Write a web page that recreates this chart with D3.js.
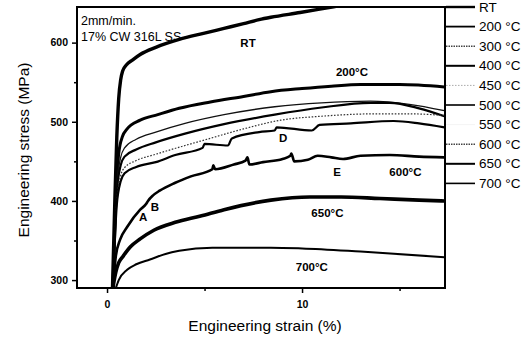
<!DOCTYPE html>
<html><head><meta charset="utf-8">
<script src="https://cdn.jsdelivr.net/npm/d3@7"></script>
<style>
html,body{margin:0;padding:0;background:#fff;}
svg{display:block;font-family:"Liberation Sans",Arial,sans-serif;}
</style></head>
<body>
<svg id="chart" width="527" height="337"></svg>
<script>
// ---- data (strain %, stress MPa) ----
const seriesNames = ["RT","200 °C","300 °C","400 °C","450 °C","500 °C","550 °C","600 °C","650 °C","700 °C"];
const curveRT  = [[0.28,290],[0.4,400],[0.5,480],[0.6,530],[0.7,553],[0.8,564],[1.0,572],[1.3,578],[1.7,585],[2.5,594],[3.7,604],[5,612],[6,618],[7,624],[7.8,629],[8.4,632],[9.9,638],[11.3,644],[12,647]];
const curve200 = [[0.3,290],[0.45,400],[0.6,460],[0.8,482],[1.0,490],[1.7,502],[2.6,509],[3.7,517],[5.3,525],[7,532],[8.4,538],[10,542],[11.5,545],[13,547],[15,547],[17.3,544]];
const curve300 = [[0.3,290],[0.5,420],[0.7,455],[0.9,467],[1.5,478],[2.5,487],[4,498],[6,509],[8.6,519],[11,524],[13.5,526],[15.5,522],[17.3,514]];
const curve400 = [[0.3,290],[0.5,410],[0.7,445],[0.9,456],[1.5,465],[2.5,474],[4,485],[6,497],[8.6,509],[11,518],[13.5,524],[14.5,524],[16,517],[17.3,507]];
const curve450 = [[0.3,290],[0.5,400],[0.7,432],[0.9,442],[1.5,451],[2.5,459],[4,470],[5,477],[7,491],[8.9,502],[11,507],[13.7,510],[15.5,510],[17.3,508]];
const curve500 = [[0.3,290],[0.5,395],[0.7,425],[0.9,435],[1.5,443],[2.5,449],[3.5,458],[4.9,467],[5.0,472],[6.2,470],[6.4,479],[7.8,487],[8.6,489],[8.7,493],[10.5,489],[10.9,496],[12.5,498],[14.7,501],[16,498],[17.3,493]];
const curve550 = [];
const curve600 = [[0.3,290],[0.45,330],[0.67,351],[1.03,367],[1.7,389],[2.0,396],[2.1,400],[2.36,407],[2.7,413],[3.5,423],[4.3,431],[5.4,440],[5.45,445],[5.55,440],[6.5,446],[7.1,451],[7.2,455],[7.3,446],[8,449],[9,453],[9.4,457],[9.45,460],[9.6,450],[10.3,452],[10.8,457],[11.5,455],[12.1,453],[13,457],[14.5,458],[16,456],[17.3,455]];
const curve650 = [[0.3,290],[0.45,310],[0.6,322],[0.82,330],[1.2,342],[1.7,352],[2.4,363],[3.5,373],[4.8,381],[6,389],[8.4,401],[10.4,405],[12,405],[14,403],[16,401],[17.3,400]];
const curve700 = [[0.45,290],[0.6,300],[1.03,313],[1.5,320],[2.2,326],[3,333],[3.7,337],[5.4,341],[8.4,341],[10,340],[13,336],[17.3,329]];
const curves = [curveRT,curve200,curve300,curve400,curve450,curve500,curve550,curve600,curve650,curve700];

const xTicks = [0,10];
const xMinor = [5,15];
const yTicks = [300,400,500,600];
const yMinor = [350,450,550];

// in-plot labels: [text, strain, stress]
const curveLabels = [["RT",7.23,600],["200°C",12.56,563],["D",9.03,480],["E",11.8,437],["600°C",15.3,437],["650°C",11.3,385],["700°C",10.5,316],["A",1.85,380],["B",2.46,392]];

// ---- styles ----
const styles = [
  {w:3.4,c:"#000",d:null},
  {w:3.0,c:"#000",d:null},
  {w:1.3,c:"#111",d:null},
  {w:2.2,c:"#000",d:null},
  {w:1.2,c:"#333",d:"1.6,1.6"},
  {w:2.2,c:"#000",d:null},
  {w:1.0,c:"#f4f4f4",d:null},
  {w:2.6,c:"#000",d:null},
  {w:3.6,c:"#000",d:null},
  {w:2.0,c:"#000",d:null}
];
const legendStyles = [
  {w:2.4,c:"#000",d:null},
  {w:1.8,c:"#000",d:null},
  {w:1.4,c:"#444",d:"1.5,1"},
  {w:2.0,c:"#000",d:null},
  {w:1.0,c:"#aaa",d:"1.5,1.5"},
  {w:1.6,c:"#000",d:null},
  {w:1.0,c:"#f4f4f4",d:null},
  {w:1.4,c:"#444",d:"1.5,1"},
  {w:2.0,c:"#000",d:null},
  {w:1.6,c:"#000",d:null}
];

const L=77,R=445,T=7,B=288;
const svg = d3.select("#chart");
const x = d3.scaleLinear().domain([-1.54,17.33]).range([L,R]);
const y = d3.scaleLinear().domain([290,645]).range([B,T]);

svg.append("defs").append("clipPath").attr("id","clip")
  .append("rect").attr("x",L).attr("y",T).attr("width",R-L).attr("height",B-T);

const line = d3.line().x(d=>x(d[0])).y(d=>y(d[1])).curve(d3.curveMonotoneX);
const g = svg.append("g").attr("clip-path","url(#clip)");
curves.forEach((c,i)=>{
  if(!c.length) return;
  const s = styles[i];
  g.append("path").attr("d",line(c)).attr("fill","none")
    .attr("stroke",s.c).attr("stroke-width",s.w)
    .attr("stroke-dasharray",s.d).attr("stroke-linejoin","round");
});

// axes
const xAxis = d3.axisBottom(x).tickValues(xTicks).tickSize(5).tickFormat(d3.format("d"));
const xAx = svg.append("g").attr("transform",`translate(0,${B})`).call(xAxis);
const xAxMinor = svg.append("g").attr("transform",`translate(0,${B})`).call(d3.axisBottom(x).tickValues(xMinor).tickSize(3).tickFormat(""));
const yAx = svg.append("g").attr("transform",`translate(${L},0)`).call(d3.axisLeft(y).tickValues(yTicks).tickSize(5));
const yAxMinor = svg.append("g").attr("transform",`translate(${L},0)`).call(d3.axisLeft(y).tickValues(yMinor).tickSize(3).tickFormat(""));
[xAx,xAxMinor,yAx,yAxMinor].forEach(a=>{
  a.select(".domain").remove();
  a.selectAll("line").attr("stroke","#000").attr("stroke-width",1.5);
});
xAx.selectAll("text").attr("font-size",10.5).attr("font-weight","bold").attr("fill","#000").attr("dy","1.1em");
yAx.selectAll("text").attr("font-size",10.5).attr("font-weight","bold").attr("fill","#000").attr("x",-9);

svg.append("rect").attr("x",L).attr("y",T).attr("width",R-L).attr("height",B-T)
  .attr("fill","none").attr("stroke","#000").attr("stroke-width",2);

// titles
svg.append("text").attr("x",(L+R)/2+4).attr("y",331).attr("text-anchor","middle")
  .attr("font-size",15.5).text("Engineering strain (%)");
svg.append("text").attr("transform","translate(29,150) rotate(-90)").attr("text-anchor","middle")
  .attr("font-size",15.5).text("Engineering stress (MPa)");

// annotations
svg.append("text").attr("x",81).attr("y",25).attr("font-size",12.5).text("2mm/min.");
svg.append("text").attr("x",81).attr("y",41).attr("font-size",12.5).text("17% CW 316L SS");

curveLabels.forEach(l=>{
  svg.append("text").attr("x",x(l[1])).attr("y",y(l[2])).attr("text-anchor","middle")
    .attr("dominant-baseline","central").attr("font-size",11.5).attr("font-weight","bold").text(l[0]);
});

// legend
const legY = d3.scaleLinear().domain([0,9]).range([7,183.4]);
seriesNames.forEach((n,i)=>{
  const yy = legY(i), s = legendStyles[i];
  svg.append("line").attr("x1",R+1).attr("x2",475).attr("y1",yy).attr("y2",yy)
    .attr("stroke",s.c).attr("stroke-width",s.w).attr("stroke-dasharray",s.d);
  svg.append("text").attr("x",479).attr("y",yy).attr("dominant-baseline","central")
    .attr("font-size",13.5).text(n);
});
</script>
</body></html>
